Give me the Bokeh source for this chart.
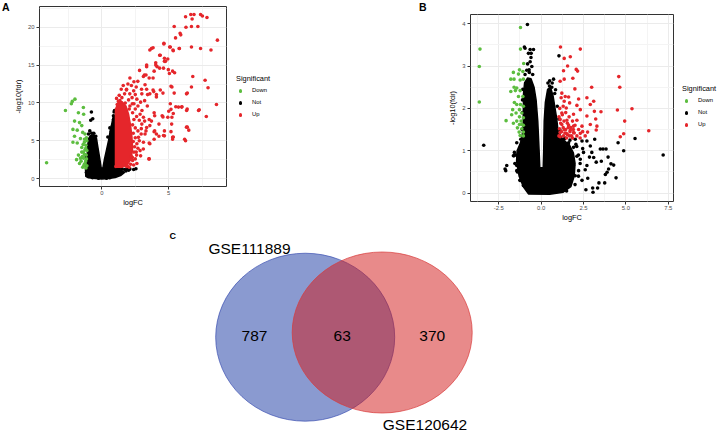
from bokeh.plotting import figure
from bokeh.models import Range1d, FixedTicker, PrintfTickFormatter, Div, Spacer
from bokeh.layouts import column, row
from bokeh.core.properties import value
from bokeh.embed import file_html
from bokeh.resources import INLINE

FONT = "Liberation Sans"
GREEN = "#5cbd3f"
RED = "#e5262b"
BLACK = "#000000"

# ---------------- Panel A data (logFC, -log10(fdr)) ----------------
a_down_x = [-4.13, -2.72, -2.21, -2.01, -2.28, -1.38, -1.75, -1.36, -2.04, -1.67, -1.50, -2.16, -1.84,
            -1.43, -1.26, -2.04, -1.60, -2.16, -1.84, -1.31, -1.19, -1.50, -1.26, -1.38, -1.75, -1.17,
            -1.36, -1.89, -1.55, -1.21, -1.67, -1.31, -1.12, -1.43, -1.19, -1.50, -1.12, -1.12, -1.25,
            -1.15, -1.30, -1.20, -1.40, -1.15, -1.30, -1.45, -1.60, -1.35]
a_down_y = [2.1, 9.0, 10.2, 10.5, 9.9, 9.4, 8.7, 8.5, 7.6, 7.4, 7.0, 6.5, 6.4,
            6.1, 5.9, 5.6, 5.3, 4.8, 4.7, 4.8, 4.4, 4.1, 3.8, 3.5, 3.1, 3.1,
            2.7, 2.5, 2.3, 2.3, 2.0, 1.9, 1.7, 1.5, 1.4, 3.5, 3.7, 5.0, 2.0,
            2.6, 3.2, 4.0, 4.5, 5.4, 5.2, 2.9, 2.7, 1.7]

a_not_x = [-0.78, -0.68, -0.83, -0.90, -0.75, 0.92, 0.87, 0.87, 0.80, 0.70, 1.10, 1.30, 1.50, 1.70,
           1.90, 2.10, 2.38, 2.55, -1.15, -1.10, 1.20, 1.50, 1.80, 2.00, 0.60, -0.70, -1.00, -0.60,
           -0.45, 0.45, 0.60, -1.22, -1.18, 0.95, 0.35, -0.25]
a_not_y = [8.8, 7.9, 7.7, 6.3, 6.0, 8.8, 8.3, 7.8, 7.0, 6.2, 1.3, 1.25, 1.3, 1.2,
           1.3, 1.25, 1.2, 1.3, 0.8, 0.4, 0.7, 0.9, 1.0, 1.1, 0.1, 0.1, 5.9, 6.0,
           5.6, 5.5, 6.7, 1.8, 2.8, 9.0, 0.05, 0.05]

# outline of the solid black cloud of non-significant genes
a_not_core_x = [-1.20, -1.22, -1.12, -1.08, -1.05, -0.98, -0.85, -0.60, -0.40, -0.30, -0.15, -0.05,
                0.08, 0.20, 0.35, 0.50, 0.62, 0.75, 0.85, 0.97, 1.00, 1.00, 1.40, 1.70, 1.40, 1.00,
                0.50, 0.00, -0.50, -1.00]
a_not_core_y = [0.3, 1.3, 2.5, 3.5, 4.5, 5.3, 5.7, 5.8, 5.3, 4.2, 2.6, 1.4,
                1.4, 2.6, 3.8, 5.0, 6.2, 7.3, 8.2, 8.4, 7.0, 1.4, 1.1, 0.8, 0.4, 0.15,
                0.0, -0.05, 0.0, 0.1]

a_up_x = [6.26, 6.65, 6.89, 7.38, 7.52, 7.86, 6.75, 5.41, 6.29, 6.70, 7.18, 5.85, 5.90, 5.51, 8.64,
          3.83, 3.59, 4.64, 5.07, 5.32, 5.80, 6.70, 7.38, 8.16, 4.32, 4.68, 4.76, 4.03, 3.35, 4.13,
          4.61, 2.82, 4.97, 5.29, 5.44, 3.91, 3.18, 3.54, 6.80, 7.72, 2.21, 2.57, 5.24, 6.70, 7.94,
          1.84, 2.97, 3.83, 4.37, 6.33, 3.42, 4.08, 1.24, 2.28, 5.12, 5.99, 5.53, 8.57, 6.38, 7.28,
          3.91, 4.51, 5.34, 7.81, 4.93, 3.54, 4.27, 5.22, 6.33, 6.50, 3.30, 3.91, 5.17, 2.94, 4.27,
          4.61, 5.34, 5.29, 3.91, 6.19, 6.26, 3.54, 2.57, 2.28, 3.54, 2.38, 2.04,
          1.85, 2.09, 2.38, 2.50, 2.26, 2.62, 2.99, 3.23, 3.35, 3.59, 3.88, 4.08, 4.57, 3.11, 3.30,
          3.83, 2.69, 3.35, 4.03, 4.32, 4.68, 4.93, 5.05, 5.17, 5.41, 6.39, 3.71, 4.37, 4.64, 5.12,
          5.34, 5.78, 7.23, 6.39, 5.97, 5.73, 6.34, 5.17, 5.24, 4.57, 5.00, 5.29, 4.68, 4.68, 3.59,
          3.52, 3.95, 4.08, 3.95, 3.71, 3.59, 2.86, 3.11, 2.99, 3.35, 3.23, 2.74, 3.11, 2.62, 2.86,
          2.50, 2.62, 1.10, 1.30, 1.50, 1.70, 2.00, 1.45, 1.15, 2.10, 2.40, 2.70, 2.50, 2.30, 2.60,
          2.40, 2.80, 2.30, 2.50, 2.70, 2.35, 2.50, 2.35, 2.80, 2.45, 2.70, 2.40, 2.60, 2.30, 2.15,
          1.85, 1.95, 2.40, 2.10, 1.60, 2.90, 3.00, 3.20, 3.40, 2.95, 3.20, 2.90, 3.10, 1.05, 1.25,
          1.60, 1.90, 2.20, 1.35, 1.75, 2.05]
a_up_y = [21.4, 21.7, 21.7, 21.7, 21.5, 21.3, 21.1, 20.1, 20.0, 20.1, 20.1, 19.2, 19.0, 18.6, 18.3,
          17.3, 17.0, 17.9, 17.4, 17.0, 17.2, 17.4, 17.2, 17.0, 16.3, 15.9, 15.5, 15.3, 15.0, 14.8,
          14.6, 14.3, 14.4, 14.2, 14.0, 14.2, 13.7, 13.3, 13.5, 13.0, 12.3, 12.1, 12.1, 12.1, 12.0,
          11.7, 11.8, 11.7, 11.7, 11.2, 11.1, 10.8, 10.2, 9.9, 9.9, 9.5, 9.5, 9.8, 9.2, 9.1,
          8.7, 8.3, 8.6, 8.2, 8.1, 7.8, 7.2, 7.2, 6.8, 6.4, 6.3, 6.2, 6.2, 5.9, 5.6,
          5.7, 5.5, 5.2, 5.2, 5.2, 5.0, 4.7, 3.5, 2.8, 2.6, 1.8, 1.5,
          11.8, 11.2, 11.6, 11.1, 10.7, 10.5, 11.2, 12.4, 11.8, 11.2, 11.5, 11.1, 11.3, 13.5, 13.7,
          13.3, 12.85, 14.8, 15.0, 14.6, 15.5, 15.8, 13.9, 12.2, 11.3, 11.3, 17.2, 16.3, 17.8, 17.4,
          16.9, 17.2, 9.0, 6.8, 9.45, 9.45, 9.0, 9.15, 8.1, 8.15, 8.9, 5.45, 6.3, 5.65, 4.6,
          2.6, 6.3, 5.9, 8.3, 7.6, 7.0, 8.5, 8.1, 7.2, 6.75, 5.9, 5.45, 4.8, 4.6, 3.7,
          2.6, 2.0, 10.6, 11.0, 10.7, 11.2, 10.4, 11.8, 9.8, 9.6, 9.9, 9.6, 9.2, 8.7, 8.2,
          7.8, 7.7, 7.1, 6.7, 6.3, 6.0, 5.4, 4.9, 5.0, 4.2, 4.0, 3.5, 3.1, 2.4, 1.9,
          1.6, 12.5, 12.8, 13.3, 12.3, 10.1, 9.0, 10.3, 9.6, 6.6, 7.6, 3.0, 3.9, 1.6, 2.2,
          2.0, 1.7, 2.9, 10.3, 10.0, 9.2]

# outline of the solid red cloud of up-regulated genes
a_up_core_x = [1.02, 1.02, 1.20, 1.50, 1.80, 2.00, 2.15, 2.25, 2.30, 2.20, 1.90, 1.50]
a_up_core_y = [1.5, 9.2, 9.9, 10.2, 9.6, 8.5, 7.0, 5.5, 4.0, 2.6, 1.8, 1.5]

# ---------------- Panel B data ----------------
b_down_x = [-3.61, -3.65, -3.65, -1.22, -1.22, -1.03, -1.28, -1.64, -1.08, -1.34, -1.79, -1.60, -1.24,
            -1.05, -1.60, -1.44, -1.79, -1.52, -1.24, -1.34, -1.08, -1.58, -1.44, -1.22, -1.05, -1.68,
            -1.28, -1.48, -1.14, -1.74, -1.28, -1.05, -2.07, -1.44, -1.18, -1.64, -1.28, -1.05, -1.40,
            -1.14, -1.30, -1.05, -1.24, -1.05, -1.14]
b_down_y = [3.40, 2.99, 2.15, 3.91, 3.40, 3.06, 2.91, 2.85, 2.87, 2.81, 2.69, 2.69, 2.67,
            2.69, 2.50, 2.48, 2.40, 2.42, 2.42, 2.28, 2.28, 2.14, 2.09, 2.09, 2.05, 1.97,
            1.97, 1.89, 1.89, 1.85, 1.80, 1.78, 1.71, 1.70, 1.70, 1.65, 1.62, 1.60, 1.54,
            1.52, 1.44, 1.44, 1.36, 1.35, 1.62]

b_up_x = [1.14, 2.31, 1.36, 1.72, 1.56, 1.32, 2.07, 2.15, 1.12, 1.36, 1.87, 4.58, 4.64, 2.98, 1.99,
          1.22, 1.42, 1.62, 1.18, 2.70, 2.21, 3.10, 1.36, 1.68, 2.90, 2.11, 5.36, 4.50, 1.48, 2.31,
          3.14, 3.53, 1.22, 1.91, 2.70, 3.22, 4.93, 1.12, 1.52, 2.11, 2.90, 3.29, 2.41, 1.22, 1.62,
          1.91, 1.08, 1.36, 1.72, 2.21, 3.25, 6.35, 1.12, 1.48, 1.91, 2.31, 4.87, 1.32, 1.68, 2.11,
          2.60, 4.67, 2.74, 1.12, 1.05, 1.20, 1.30, 1.45, 1.55, 1.70, 1.80, 1.95, 1.15, 1.35, 1.55,
          1.75, 1.05, 1.25, 1.45, 1.65, 1.85, 2.00, 1.10, 1.30, 1.50, 1.85, 2.30, 2.45, 1.40, 1.60,
          1.90]
b_up_y = [3.45, 3.40, 3.18, 3.22, 3.00, 2.89, 2.92, 2.88, 2.64, 2.69, 2.71, 2.75, 2.50, 2.50, 2.46,
          2.36, 2.28, 2.27, 2.25, 2.25, 2.22, 2.17, 2.17, 2.13, 2.09, 2.07, 1.99, 1.96, 2.01, 1.97,
          1.93, 1.92, 1.89, 1.86, 1.82, 1.75, 1.70, 1.74, 1.72, 1.72, 1.62, 1.58, 1.58, 1.62, 1.60,
          1.58, 1.52, 1.50, 1.49, 1.50, 1.49, 1.47, 1.43, 1.41, 1.43, 1.41, 1.40, 1.35, 1.35, 1.35,
          1.35, 1.33, 1.44, 1.33, 1.35, 1.45, 1.55, 1.50, 1.38, 1.45, 1.35, 1.42, 1.65, 1.70, 1.65,
          1.55, 1.80, 1.85, 1.90, 1.80, 1.70, 1.60, 2.00, 2.05, 1.30, 1.30, 1.30, 1.45, 1.42, 1.55,
          1.50]

b_not_x = [-0.81, -0.99, -0.95, -0.65, -0.45, -0.59, -0.65, -0.55, -0.71, 1.05, 0.73, 0.49, 0.63,
           0.85, -3.39, -2.13, -2.09, -1.44, -1.60, -1.58, 5.54, 4.54, 4.87, 7.20, 3.83, 3.65, 4.12,
           4.28, 3.98, 3.89, 3.79, 4.42, 3.41, 3.75, 3.33, 3.04, 2.64, 3.06, 3.25, 3.10, 3.49, 2.99,
           2.90, 2.70, 3.16, 2.41, 2.50, 2.31, 2.70, 2.21, 2.01, 1.72, 2.41, 1.91, 2.11, 1.91, 1.62,
           2.01, 1.36, 1.52, 1.42, 1.32, 1.12, 0.93, -2.03, -1.44, -1.24, -1.05, -1.34, -1.44, -1.20,
           -1.64, -1.50, -1.55, -1.40, -1.25, -1.15, -1.12, -1.10, -1.10, -1.08, -0.95, -0.85, -0.70,
           -0.50, -0.80, -0.60, -0.75, 0.40, 0.50, 0.65, 0.80, 0.95, 1.05, 1.10, 1.40, 1.70, 2.10,
           2.20, 2.30, 2.20, 2.00, 1.50, 2.60, 2.85, 2.45, 2.75, 3.55, 3.95, 1.75, 2.05]
b_not_y = [3.98, 3.45, 3.42, 3.39, 3.39, 3.30, 3.10, 2.99, 2.91, 3.24, 2.69, 2.53, 2.50,
           2.44, 1.13, 0.57, 0.53, 0.53, 0.88, 0.96, 1.29, 1.19, 1.00, 0.90, 1.04, 1.04, 0.69,
           0.66, 0.57, 0.49, 0.44, 0.36, 0.24, 0.24, 0.12, 0.12, 0.08, 0.02, 0.73, 0.84, 1.04, 0.96,
           1.11, 1.23, 1.27, 1.23, 0.96, 0.80, 0.65, 0.53, 0.41, 0.26, 0.30, 0.65, 0.87, 1.08, 1.19,
           1.27, 1.27, 1.00, 0.76, 0.49, 0.18, 0.06, 0.65, 0.65, 0.30, 0.18, 0.88, 1.19, 1.27,
           0.88, 0.90, 0.70, 0.50, 0.30, 1.20, 1.50, 1.90, 2.20, 2.45, 2.80, 2.90, 2.85,
           2.80, 3.05, 3.20, 3.30, 2.60, 2.65, 2.60, 2.35, 2.05, 1.75, 1.50, 1.30, 1.25, 1.10,
           0.90, 0.70, 0.40, 0.20, 0.05, 0.55, 0.85, 1.05, 0.35, 0.75, 0.85, 0.95, 1.15]

# outline of the solid black cloud of non-significant genes
b_not_core_x = [-0.75, -1.05, -1.30, -1.45, -1.42, -1.15, -1.06, -1.05, -1.04, -0.98, -0.80, -0.60,
                -0.42, -0.30, -0.20, -0.12, -0.08, 0.12, 0.15, 0.18, 0.25, 0.38, 0.55, 0.70, 0.82,
                0.92, 1.00, 1.30, 1.65, 1.90, 2.00, 1.95, 1.75, 1.30, 0.50]
b_not_core_y = [-0.02, 0.15, 0.40, 0.75, 1.00, 1.25, 1.60, 2.00, 2.35, 2.60, 2.72, 2.70,
                2.50, 2.20, 1.70, 1.00, 0.60, 0.60, 1.00, 1.70, 2.15, 2.45, 2.50, 2.30, 2.00,
                1.75, 1.45, 1.25, 1.15, 0.95, 0.70, 0.40, 0.15, 0.02, -0.03]

# ---------------- Panel C (Venn) data ----------------
set_names = ["GSE111889", "GSE120642"]
region_counts = [787, 63, 370]   # only GSE111889, both, only GSE120642

legend_title = "Significant"
legend_labels = ["Down", "Not", "Up"]
legend_colors = [GREEN, BLACK, RED]
a_x_ticks, a_x_minor = [0, 5], [-2.5, 2.5, 7.5]
a_y_ticks, a_y_minor = [0, 5, 10, 15, 20], [2.5, 7.5, 12.5, 17.5, 22.5]
b_x_ticks, b_x_minor = [-2.5, 0, 2.5, 5, 7.5], [-3.75, -1.25, 1.25, 3.75, 6.25]
b_y_ticks, b_y_minor = [0, 1, 2, 3, 4], [0.5, 1.5, 2.5, 3.5]

MS = 3.6


def style(p, xt, xm, yt, ym):
    p.xaxis.ticker = FixedTicker(ticks=xt, minor_ticks=xm)
    p.yaxis.ticker = FixedTicker(ticks=yt, minor_ticks=ym)
    p.xgrid.ticker = FixedTicker(ticks=xt, minor_ticks=xm)
    p.ygrid.ticker = FixedTicker(ticks=yt, minor_ticks=ym)
    for ax in (p.xaxis[0], p.yaxis[0]):
        ax.axis_line_color = None
        ax.major_tick_line_color = "#333333"
        ax.major_tick_out = 3
        ax.major_tick_in = 0
        ax.minor_tick_line_color = None
        ax.major_label_text_font = FONT
        ax.major_label_text_font_size = "5.9px"
        ax.major_label_text_color = "#4d4d4d"
        ax.axis_label_text_font = FONT
        ax.axis_label_text_font_size = "7.4px"
        ax.axis_label_text_font_style = "normal"
        ax.axis_label_text_color = "#000000"
    p.xaxis.major_label_standoff = 0
    p.xaxis.axis_label_standoff = 0
    p.yaxis.major_label_standoff = 1
    p.yaxis.axis_label_standoff = 2
    for g in (p.xgrid[0], p.ygrid[0]):
        g.grid_line_color = "#ebebeb"
        g.minor_grid_line_color = "#f4f4f4"
    p.outline_line_color = "#333333"
    p.outline_line_width = 1
    p.background_fill_color = "white"


def volcano(w, h, bl, br, bt, bb, xr, yr, dn, nt, up, nt_core, up_core):
    p = figure(width=w, height=h, x_range=Range1d(*xr), y_range=Range1d(*yr),
               output_backend="svg", toolbar_location=None,
               min_border_left=bl, min_border_right=br, min_border_top=bt, min_border_bottom=bb,
               x_axis_label="logFC", y_axis_label="-log10(fdr)")
    p.patch(nt_core[0], nt_core[1], fill_color=BLACK, line_color=BLACK, line_width=1.5)
    p.scatter(nt[0], nt[1], size=MS, fill_color=BLACK, line_color=None)
    if up_core is not None:
        p.patch(up_core[0], up_core[1], fill_color=RED, line_color=RED, line_width=1.5)
    p.scatter(dn[0], dn[1], size=MS, fill_color=GREEN, line_color=None)
    p.scatter(up[0], up[1], size=MS, fill_color=RED, line_color=None)
    return p


CSS_FONT = "font-family:'Liberation Sans',Arial,sans-serif;color:#000;line-height:1;white-space:nowrap;"


def legend_div(width, height, tx, ty):
    parts = ['<div style="position:relative;width:%dpx;height:%dpx;">' % (width, height)]
    parts.append('<span style="position:absolute;left:%.1fpx;top:%.1fpx;font-size:7.4px;%s">%s</span>'
                 % (tx, ty - 3.6, CSS_FONT, legend_title))
    for i, (lab, col) in enumerate(zip(legend_labels, legend_colors)):
        y = ty + 12 * (i + 1)
        parts.append('<span style="position:absolute;left:%.1fpx;top:%.1fpx;width:3.6px;height:3.6px;'
                     'border-radius:50%%;background:%s;"></span>' % (tx + 4.7 - 1.8, y - 1.8, col))
        parts.append('<span style="position:absolute;left:%.1fpx;top:%.1fpx;font-size:5.9px;%s">%s</span>'
                     % (tx + 16, y - 2.9, CSS_FONT, lab))
    parts.append('</div>')
    return Div(text="".join(parts), width=width, height=height, margin=0)


def tag_div(width, height, text, tx):
    return Div(text='<div style="position:relative;width:%dpx;height:%dpx;">'
                    '<span style="position:absolute;left:%.1fpx;top:1.6px;font-weight:bold;'
                    'font-size:10.5px;%s">%s</span></div>'
                    % (width, height, tx, CSS_FONT, text), width=width, height=height, margin=0)


pa = volcano(220, 209, 24, 4, 6, 21, (-4.66, 9.32), (-1.05, 22.75),
             (a_down_x, a_down_y), (a_not_x, a_not_y), (a_up_x, a_up_y),
             (a_not_core_x, a_not_core_y), (a_up_core_x, a_up_core_y))
style(pa, a_x_ticks, a_x_minor, a_y_ticks, a_y_minor)

pb = volcano(237, 216, 30, 4, 6, 21, (-4.17, 7.81), (-0.199, 4.217),
             (b_down_x, b_down_y), (b_not_x, b_not_y), (b_up_x, b_up_y),
             (b_not_core_x, b_not_core_y), None)
style(pb, b_x_ticks, b_x_minor, b_y_ticks, b_y_minor)
pb.xaxis.formatter = PrintfTickFormatter(format="%.1f")
pb.yaxis.formatter = PrintfTickFormatter(format="%d")

top = row(tag_div(10, 209, "A", 2),
          pa,
          legend_div(130, 209, 6, 79),
          tag_div(80, 209, "B", 59),
          column(Spacer(width=237, height=8, margin=0), pb, margin=0),
          legend_div(43, 209, 5, 89), margin=0)

# ---------------- Venn diagram ----------------
pc = figure(width=720, height=209, x_range=Range1d(0, 720), y_range=Range1d(209, 0),
            output_backend="svg", toolbar_location=None, min_border=0,
            x_axis_type=None, y_axis_type=None)
pc.outline_line_color = None
# layout of the two sets (screen-like units of this panel)
circ_x = [304.7, 381.7]
circ_y = [112.7, 108.0]
circ_w = [179, 180]
circ_h = [168, 161]
circ_fill = ["#1535a1", "#d11515"]
circ_line = ["#3a4fb0", "#d83a3a"]
for i in range(2):
    pc.ellipse(x=[circ_x[i]], y=[circ_y[i]], width=[circ_w[i]], height=[circ_h[i]],
               fill_color=circ_fill[i], fill_alpha=0.5, line_color=circ_line[i], line_alpha=0.7,
               line_width=1)
count_x = [254.0, 341.7, 431.7]
count_y = [111, 111, 111]
pc.text(count_x, count_y, text=[str(c) for c in region_counts], text_align="center",
        text_baseline="middle", text_font=value(FONT), text_font_size="15.5px", text_color="#000000")
pc.text([249.0, 424.5], [24.0, 200.0], text=set_names, text_align="center", text_baseline="middle",
        text_font=value(FONT), text_font_size="15.5px", text_color="#000000")
pc.text([169.0], [11.0], text=["C"], text_align="left", text_baseline="middle",
        text_font=value(FONT), text_font_size="9px", text_font_style="bold", text_color="#000000")

layout = column(top, pc, margin=0)
open("out.html", "w").write(file_html(layout, INLINE))
